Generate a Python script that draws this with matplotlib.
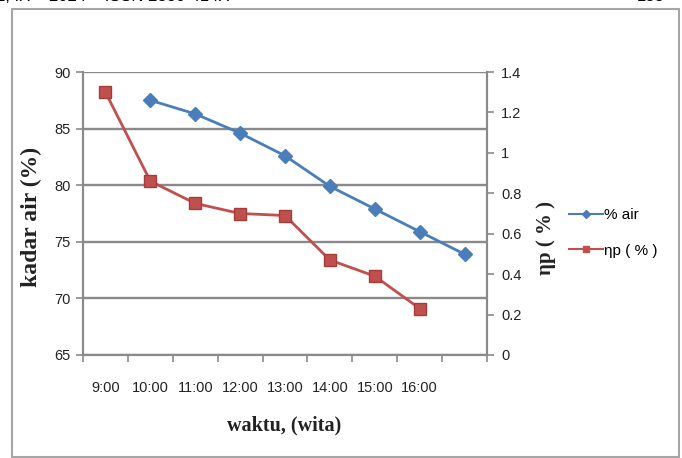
import numpy as np
import matplotlib.pyplot as plt
from matplotlib.lines import Line2D
from matplotlib.patches import Rectangle
from matplotlib.ticker import FuncFormatter

# data
waktu = ['9:00', '10:00', '11:00', '12:00', '13:00', '14:00', '15:00', '16:00', '']
kadar_air = [87.5, 86.3, 84.6, 82.6, 79.9, 77.9, 75.9, 73.9]      # % air, starts at 2nd slot
eta_p = [1.30, 0.86, 0.75, 0.70, 0.69, 0.47, 0.39, 0.23]          # ηp ( % ), starts at 1st slot

BLUE = '#4a7ebb'
RED = '#c0504d'
GRID = '#8a8a8a'
TXT = '#222222'
TICKFONT = ['Liberation Sans', 'DejaVu Sans']

W, H = 682, 458
fig = plt.figure(figsize=(W / 100, H / 100), dpi=100)

def fx(px):
    return px / W

def fy(py):
    return 1 - py / H

# outer frame + page header (cut off at the top, as in the scan)
fig.patches.append(Rectangle((fx(12), fy(457)), fx(679) - fx(12), fy(9) - fy(457),
                             transform=fig.transFigure, fill=False, ec='#a6a6a6', lw=1.5))
fig.text(fx(-4), fy(-3), '2, IX \u2013 2024 \u2013 ISSN 2830-414X', fontsize=12, va='center',
         family=['Liberation Sans'], color='black')
fig.text(fx(665), fy(-3), '183', fontsize=12, va='center', ha='right',
         family=['Liberation Sans'], color='black')

ax = fig.add_axes([fx(83), fy(355), fx(487) - fx(83), fy(72) - fy(355)])
ax2 = ax.twinx()

x_red = np.arange(len(eta_p))
x_blue = np.arange(len(kadar_air)) + 1

l1, = ax.plot(x_blue, kadar_air, color=BLUE, lw=2, marker='D', ms=7,
              mfc=BLUE, mec=BLUE, zorder=3)
l2, = ax2.plot(x_red, eta_p, color=RED, lw=2, marker='s', ms=9,
               mfc=RED, mec='#a33d3a', mew=1, zorder=3)

ax.set_xlim(-0.5, len(waktu) - 0.5)
ax.set_ylim(65, 90)
ax2.set_ylim(0, 1.4)
ax.set_yticks(np.arange(65, 91, 5))
ax2.set_yticks(np.arange(0, 1.41, 0.2))
ax2.yaxis.set_major_formatter(FuncFormatter(lambda v, p: '%g' % round(v, 1)))

ax.set_xticks(np.arange(len(waktu)))
ax.set_xticklabels(waktu)
ax.set_xticks(np.arange(-0.5, len(waktu)), minor=True)
ax.tick_params(axis='x', which='major', length=0, pad=19)
ax.tick_params(axis='x', which='minor', length=5, width=1.2, color=GRID, direction='out')
ax.tick_params(axis='y', length=5, width=1.2, color=GRID, pad=4)
ax2.tick_params(axis='y', length=5, width=1.2, color=GRID, pad=5)

for a in (ax, ax2):
    for lab in a.get_xticklabels() + a.get_yticklabels():
        lab.set_family(TICKFONT)
        lab.set_fontsize(10.5)
        lab.set_color(TXT)

ax.yaxis.grid(True, color=GRID, lw=1.7)
ax.set_axisbelow(True)
for a in (ax, ax2):
    a.spines['top'].set_visible(False)
    for s in ('left', 'right', 'bottom'):
        a.spines[s].set_color(GRID)
        a.spines[s].set_linewidth(1.5)

fig.text(fx(31), fy(217), 'kadar air (%)', rotation=90, ha='center', va='center',
         family=['Liberation Serif'], fontweight='bold', fontsize=17, color=TXT)
fig.text(fx(546), fy(238), '\u03b7p ( % )', rotation=90, ha='center', va='center',
         family=['Liberation Serif'], fontweight='bold', fontsize=15, color=TXT)
fig.text(fx(284), fy(425), 'waktu, (wita)', ha='center', va='center',
         family=['Liberation Serif'], fontweight='bold', fontsize=14.5, color=TXT)

h1 = Line2D([], [], color=BLUE, lw=1.5, marker='D', ms=4.5, mfc=BLUE, mec=BLUE)
h2 = Line2D([], [], color=RED, lw=1.5, marker='s', ms=5, mfc=RED, mec=RED)
fig.legend([h1, h2], ['% air', '\u03b7p ( % )'], loc='center left',
           bbox_to_anchor=(fx(569), fy(233)), frameon=False, handlelength=2.2,
           handletextpad=0.1, labelspacing=1.4, borderaxespad=0, borderpad=0,
           prop={'family': TICKFONT, 'size': 11})

fig.savefig('out.png', dpi=100)
